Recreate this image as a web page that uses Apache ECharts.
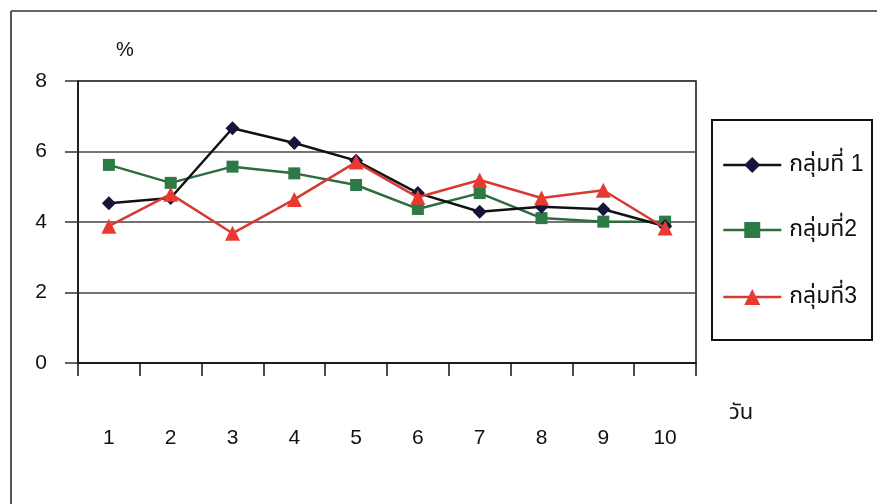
<!DOCTYPE html>
<html>
<head>
<meta charset="utf-8">
<script src="https://cdn.jsdelivr.net/npm/echarts@6/dist/echarts.min.js"></script>
<style>
  html, body { margin: 0; padding: 0; background: #fff; }
  #chart { width: 877px; height: 504px; }
</style>
</head>
<body>
<div id="chart"></div>
<script>
// Days on the x axis
const days = ['1', '2', '3', '4', '5', '6', '7', '8', '9', '10'];
// Percentage per group, one value per day
const group1 = [4.53, 4.68, 6.66, 6.24, 5.74, 4.82, 4.29, 4.43, 4.36, 3.88];
const group2 = [5.62, 5.11, 5.57, 5.38, 5.05, 4.37, 4.82, 4.11, 4.01, 4.01];
const group3 = [3.88, 4.79, 3.68, 4.64, 5.70, 4.70, 5.19, 4.68, 4.90, 3.83];
const groupNames = ['กลุ่มที่ 1', 'กลุ่มที่2', 'กลุ่มที่3'];
const yTicks = { min: 0, max: 8, step: 2 };

const FONT = 'Arial, "Liberation Sans", "Noto Sans Thai", "DejaVu Sans", sans-serif';

const chart = echarts.init(document.getElementById('chart'), null, { renderer: 'canvas' });

// one legend block per group so each row sits at its own height
const legendCenters = [165, 230, 297];
const legends = groupNames.map((name, i) => ({
  data: [name],
  left: 722,
  top: legendCenters[i] - 14,
  padding: 0,
  orient: 'vertical',
  itemWidth: 58,
  itemHeight: 20,
  lineStyle: { width: 2.5 },
  textStyle: { fontFamily: FONT, fontSize: 23, lineHeight: 28, color: '#111', padding: [0, 0, 0, 3] },
  selectedMode: false
}));

chart.setOption({
  backgroundColor: '#fff',
  animation: false,
  textStyle: { fontFamily: FONT },
  grid: {
    left: 78, top: 81, width: 618, height: 282,
    show: true, borderColor: '#111', borderWidth: 1.5, backgroundColor: 'transparent'
  },
  legend: legends,
  xAxis: {
    type: 'category',
    data: days,
    boundaryGap: true,
    axisLine: { lineStyle: { color: '#111', width: 1.5 } },
    axisTick: { show: true, length: 13, alignWithLabel: false, lineStyle: { color: '#111', width: 1.5 } },
    axisLabel: { margin: 65, fontSize: 21, color: '#111', fontFamily: FONT },
    splitLine: { show: false }
  },
  yAxis: {
    type: 'value',
    min: yTicks.min, max: yTicks.max, interval: yTicks.step,
    axisLine: { show: true, lineStyle: { color: '#111', width: 1.5 } },
    axisTick: { show: true, length: 13, lineStyle: { color: '#333', width: 1.5 } },
    axisLabel: { margin: 31, fontSize: 21, color: '#111', fontFamily: FONT },
    splitLine: { show: true, lineStyle: { color: '#444', width: 1.5 } }
  },
  series: [
    {
      name: groupNames[0], type: 'line', data: group1,
      symbol: 'diamond', symbolSize: 14,
      lineStyle: { color: '#111', width: 2.5 },
      itemStyle: { color: '#15163a' },
      z: 3
    },
    {
      name: groupNames[1], type: 'line', data: group2,
      symbol: 'rect', symbolSize: 12,
      lineStyle: { color: '#2f6b3e', width: 2.5 },
      itemStyle: { color: '#2e7a46' },
      z: 2
    },
    {
      name: groupNames[2], type: 'line', data: group3,
      symbol: 'triangle', symbolSize: 15,
      lineStyle: { color: '#d63a31', width: 2.5 },
      itemStyle: { color: '#ea3a30' },
      z: 4
    }
  ],
  graphic: [
    // outer frame (top and left edges)
    { type: 'line', shape: { x1: 11, y1: 11, x2: 877, y2: 11 }, style: { stroke: '#666', lineWidth: 2 } },
    { type: 'line', shape: { x1: 11, y1: 11, x2: 11, y2: 504 }, style: { stroke: '#555', lineWidth: 2 } },
    // legend box
    { type: 'rect', shape: { x: 712, y: 120, width: 160, height: 220 }, style: { fill: 'none', stroke: '#111', lineWidth: 2 }, z: 0 },
    // axis titles
    { type: 'text', left: 116, top: 40, style: { text: '%', font: '20px ' + FONT, fill: '#111' } },
    { type: 'text', left: 729, top: 402, style: { text: 'วัน', font: '22px ' + FONT, fill: '#111' } }
  ]
});
</script>
</body>
</html>
